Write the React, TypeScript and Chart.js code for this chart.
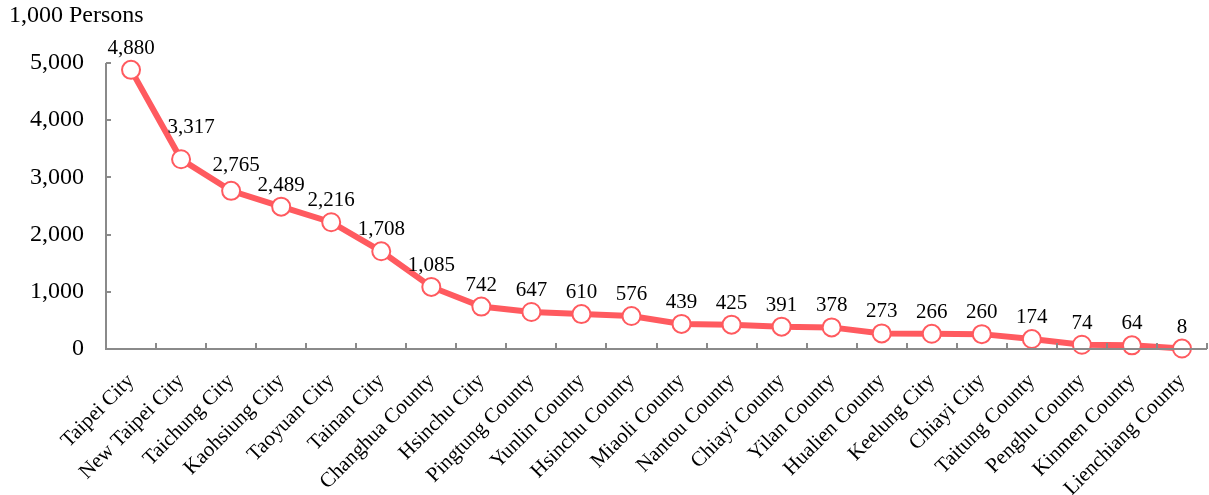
import React, { useEffect, useRef } from "react";
import { Chart, registerables } from "chart.js";

Chart.register(...registerables);

const categories = [
  "Taipei City", "New Taipei City", "Taichung City", "Kaohsiung City", "Taoyuan City",
  "Tainan City", "Changhua County", "Hsinchu City", "Pingtung County", "Yunlin County",
  "Hsinchu County", "Miaoli County", "Nantou County", "Chiayi County", "Yilan County",
  "Hualien County", "Keelung City", "Chiayi City", "Taitung County", "Penghu County",
  "Kinmen County", "Lienchiang County",
];
const population = [
  4880, 3317, 2765, 2489, 2216, 1708, 1085, 742, 647, 610, 576, 439, 425, 391, 378,
  273, 266, 260, 174, 74, 64, 8,
];
const yTicks = [0, 1000, 2000, 3000, 4000, 5000];
const unitLabel = "1,000 Persons";

const FONT = "'Liberation Serif', 'Times New Roman', serif";
const LINE_COLOR = "#FF5A5F";
const AXIS_COLOR = "#8a8a8a";

const fmt = (v: number) => v.toLocaleString("en-US");

const labelNudge: Record<number, [number, number]> = { 1: [10, -10], 2: [5, -4] };

const decorPlugin = {
  id: "decor",
  afterDraw(chart: any) {
    const ctx = chart.ctx;
    const xs = chart.scales.x;
    const ys = chart.scales.y;
    const { left, right, bottom, top } = chart.chartArea;
    ctx.save();
    ctx.strokeStyle = AXIS_COLOR;
    ctx.lineWidth = 2;
    ctx.beginPath();
    ctx.moveTo(left, top);
    ctx.lineTo(left, bottom);
    ctx.lineTo(right, bottom);
    ctx.stroke();
    ctx.beginPath();
    yTicks.forEach((v) => {
      const y = Math.round(ys.getPixelForValue(v));
      ctx.moveTo(left, y);
      ctx.lineTo(left + 5, y);
    });
    const step = xs.getPixelForValue(1) - xs.getPixelForValue(0);
    for (let i = 0; i < categories.length; i++) {
      const x = Math.round(xs.getPixelForValue(i) + step / 2);
      ctx.moveTo(x, bottom);
      ctx.lineTo(x, bottom - 6);
    }
    ctx.stroke();
    ctx.restore();
  },
  afterDatasetsDraw(chart: any) {
    const ctx = chart.ctx;
    const meta = chart.getDatasetMeta(0);
    ctx.save();
    ctx.fillStyle = "#000";
    ctx.font = `21px ${FONT}`;
    ctx.textAlign = "center";
    ctx.textBaseline = "alphabetic";
    meta.data.forEach((pt: any, i: number) => {
      const [dx, dy] = labelNudge[i] || [0, 0];
      ctx.fillText(fmt(population[i]), pt.x + dx, pt.y - 16 + dy);
    });
    ctx.textAlign = "left";
    ctx.font = `24px ${FONT}`;
    ctx.fillText(unitLabel, 9, 22);
    ctx.restore();
  },
};

export default function App() {
  const ref = useRef<HTMLCanvasElement | null>(null);
  useEffect(() => {
    if (!ref.current) return;
    const chart = new Chart(ref.current, {
      type: "line",
      data: {
        labels: categories,
        datasets: [
          {
            data: population,
            borderColor: LINE_COLOR,
            borderWidth: 6,
            pointRadius: 9,
            pointBorderWidth: 2,
            pointBackgroundColor: "#ffffff",
            pointBorderColor: LINE_COLOR,
            tension: 0,
            clip: false as any,
          },
        ],
      },
      options: {
        animation: false,
        responsive: true,
        maintainAspectRatio: false,
        layout: { autoPadding: false, padding: { top: 63, right: 2, left: 0, bottom: 0 } },
        plugins: {
          legend: { display: false },
          tooltip: { enabled: false },
          title: { display: false },
        },
        scales: {
          x: {
            offset: true,
            grid: { display: false, drawTicks: false },
            border: { display: false },
            ticks: {
              autoSkip: false,
              maxRotation: 45,
              minRotation: 45,
              padding: 20,
              color: "#000",
              font: { family: FONT, size: 21 },
            },
            afterFit(scale: any) {
              scale.height = 146;
              scale.paddingLeft = 0;
              scale.paddingRight = 0;
            },
          },
          y: {
            min: 0,
            max: 5000,
            grid: { display: false, drawTicks: false },
            border: { display: false },
            ticks: {
              stepSize: 1000,
              padding: 22,
              color: "#000",
              font: { family: FONT, size: 24 },
              callback: (v: any) => fmt(Number(v)),
            },
            afterFit(scale: any) {
              scale.width = 106;
              scale.paddingTop = 0;
              scale.paddingBottom = 0;
            },
          },
        },
      },
      plugins: [decorPlugin],
    });
    return () => chart.destroy();
  }, []);
  return (
    <div style={{ position: "absolute", left: 0, top: 0, width: 1209, height: 495 }}>
      <canvas ref={ref} />
    </div>
  );
}
